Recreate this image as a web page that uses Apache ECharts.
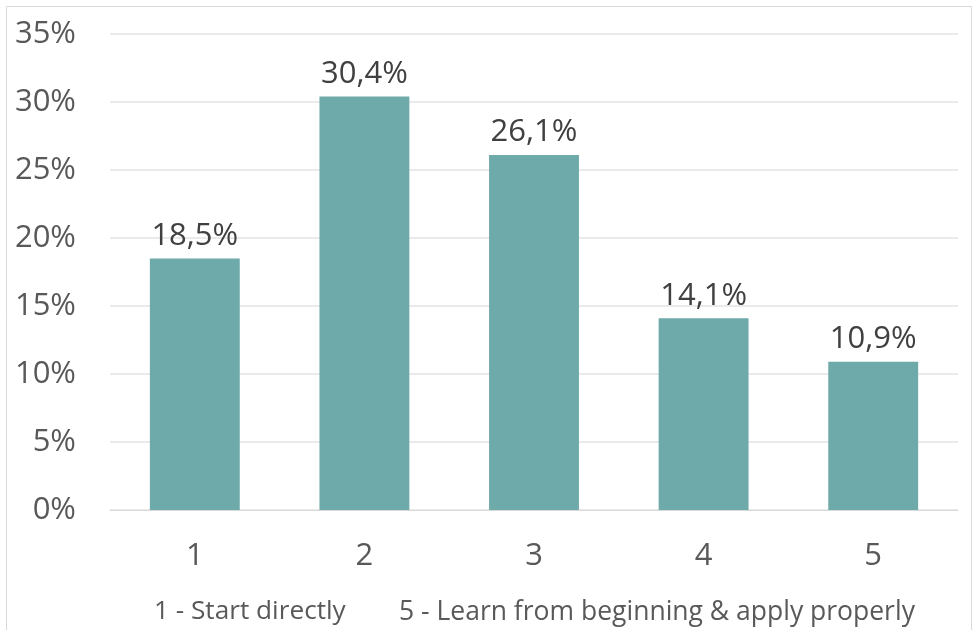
<!DOCTYPE html>
<html>
<head>
<meta charset="utf-8">
<script src="https://cdn.jsdelivr.net/npm/echarts@6/dist/echarts.min.js"></script>
<style>
  html, body { margin: 0; padding: 0; background: #fff; }
  #chart { width: 973px; height: 630px; }
</style>
</head>
<body>
<div id="chart"></div>
<script>
// Answer scale points and share of respondents (%)
const categories = ['1', '2', '3', '4', '5'];
const shares = [18.5, 30.4, 26.1, 14.1, 10.9];
const yTicks = { min: 0, max: 35, interval: 5 };
const scaleNotes = ['1 - Start directly', '5 - Learn from beginning & apply properly'];

const FONT = '"Open Sans", "Noto Sans", sans-serif';
const TEXT = '#595959';

const chart = echarts.init(document.getElementById('chart'), null, { renderer: 'canvas' });

chart.setOption({
  backgroundColor: '#ffffff',
  animation: false,
  grid: { left: 110, right: 15, top: 34, bottom: 120 },
  graphic: [
    {
      type: 'rect',
      shape: { x: 6.5, y: 6.5, width: 965, height: 640 },
      style: { fill: 'none', stroke: '#d9d9d9', lineWidth: 1 },
      silent: true
    },
    {
      type: 'text',
      left: 154, top: 599,
      style: { text: scaleNotes[0], font: '26.2px ' + FONT, fill: TEXT }
    },
    {
      type: 'text',
      left: 399, top: 599,
      style: { text: scaleNotes[1], font: '26.5px ' + FONT, fill: TEXT }
    }
  ],
  xAxis: {
    type: 'category',
    data: categories,
    axisLine: { lineStyle: { color: '#d9d9d9', width: 1 } },
    axisTick: { show: false },
    axisLabel: { color: TEXT, fontFamily: FONT, fontSize: 31, margin: 31 }
  },
  yAxis: {
    type: 'value',
    min: yTicks.min, max: yTicks.max, interval: yTicks.interval,
    axisLine: { show: false },
    axisTick: { show: false },
    splitLine: { lineStyle: { color: '#e3e3e3', width: 1.5 } },
    axisLabel: {
      color: TEXT, fontFamily: FONT, fontSize: 31, margin: 34,
      formatter: v => v + '%'
    }
  },
  series: [{
    type: 'bar',
    data: shares,
    barWidth: '53%',
    itemStyle: { color: '#6eaaa9' },
    label: {
      show: true,
      position: 'top',
      distance: 7,
      color: '#404040',
      fontFamily: FONT,
      fontSize: 31,
      formatter: p => p.value.toFixed(1).replace('.', ',') + '%'
    }
  }]
});
</script>
</body>
</html>
